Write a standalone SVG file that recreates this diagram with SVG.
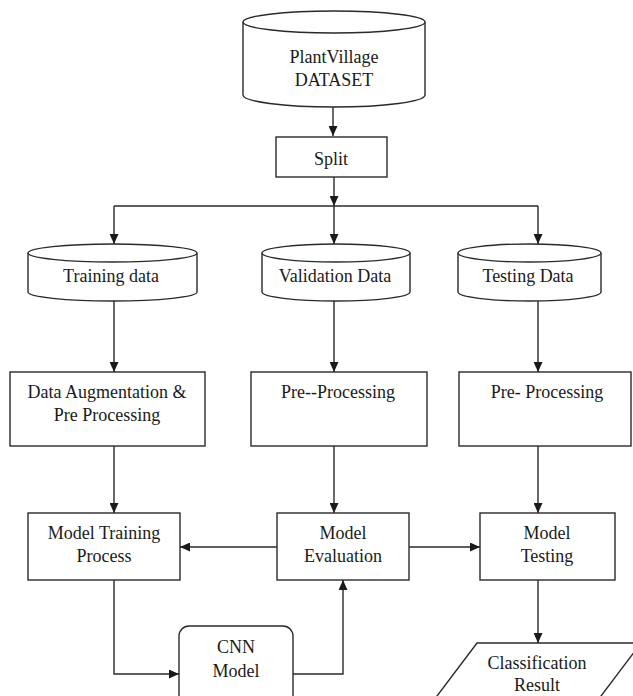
<svg xmlns="http://www.w3.org/2000/svg" width="633" height="696" viewBox="0 0 633 696">
<defs>
<marker id="ah" markerWidth="10" markerHeight="9" refX="10" refY="4.5" orient="auto" markerUnits="userSpaceOnUse">
<path d="M0,0 L10,4.5 L0,9 z" fill="#1a1a1a"/>
</marker>
</defs>
<style>
.s{fill:#fff;stroke:#2a2a2a;stroke-width:1.4}
.c{fill:none;stroke:#2a2a2a;stroke-width:1.4}
.a{marker-end:url(#ah)}
text{font-family:"Liberation Serif","Times New Roman",serif;font-size:18px;fill:#1a1a1a;text-anchor:middle}
</style>
<rect width="633" height="696" fill="#fff"/>
<g id="connectors">
<path class="c a" d="M333,107 L333,136"/>
<path class="c a" d="M334,177 L334,206"/>
<path class="c" d="M114,206 L538,206"/>
<path class="c a" d="M114,206 L114,244"/>
<path class="c a" d="M334,206 L334,244"/>
<path class="c a" d="M538,206 L538,244"/>
<path class="c a" d="M114,301 L114,372"/>
<path class="c a" d="M334,301 L334,372"/>
<path class="c a" d="M538,301 L538,372"/>
<path class="c a" d="M114,446 L114,513"/>
<path class="c a" d="M334,446 L334,513"/>
<path class="c a" d="M538,446 L538,513"/>
<path class="c a" d="M277,547 L180,547"/>
<path class="c a" d="M409,547 L480,547"/>
<path class="c a" d="M114,580 L114,674 L179,674"/>
<path class="c a" d="M293,674 L343,674 L343,580"/>
<path class="c a" d="M538,580 L538,643"/>
</g>
<g id="dataset">
<path class="s" d="M243,22 L243,95 A91,12 0 0 0 425,95 L425,22"/>
<ellipse class="s" cx="334" cy="22" rx="91" ry="11"/>
<text x="334" y="63">PlantVillage</text>
<text x="334" y="86">DATASET</text>
</g>
<g id="split">
<rect class="s" x="276" y="137" width="111" height="40"/>
<text x="331" y="165">Split</text>
</g>
<g id="training-data">
<path class="s" d="M28,253 L28,292 A84.5,9 0 0 0 197,292 L197,253"/>
<ellipse class="s" cx="112.5" cy="253" rx="84.5" ry="9"/>
<text x="111" y="282">Training data</text>
</g>
<g id="validation-data">
<path class="s" d="M262,253 L262,292 A74,9 0 0 0 410,292 L410,253"/>
<ellipse class="s" cx="336" cy="253" rx="74" ry="9"/>
<text x="335" y="282">Validation Data</text>
</g>
<g id="testing-data">
<path class="s" d="M458,253 L458,292 A71.5,9 0 0 0 601,292 L601,253"/>
<ellipse class="s" cx="529.5" cy="253" rx="71.5" ry="9"/>
<text x="528" y="282">Testing Data</text>
</g>
<g id="augmentation">
<rect class="s" x="10" y="372" width="195" height="74"/>
<text x="107" y="398">Data Augmentation &amp;</text>
<text x="107" y="421">Pre Processing</text>
</g>
<g id="preprocessing-val">
<rect class="s" x="251" y="372" width="176" height="74"/>
<text x="338" y="398">Pre--Processing</text>
</g>
<g id="preprocessing-test">
<rect class="s" x="459" y="372" width="172" height="74"/>
<text x="547" y="398">Pre- Processing</text>
</g>
<g id="model-training">
<rect class="s" x="28" y="513" width="152" height="67"/>
<text x="104" y="539">Model Training</text>
<text x="104" y="562">Process</text>
</g>
<g id="model-evaluation">
<rect class="s" x="277" y="513" width="132" height="67"/>
<text x="343" y="539">Model</text>
<text x="343" y="562">Evaluation</text>
</g>
<g id="model-testing">
<rect class="s" x="480" y="513" width="135" height="67"/>
<text x="547" y="539">Model</text>
<text x="547" y="562">Testing</text>
</g>
<g id="cnn-model">
<rect class="s" x="179" y="626" width="114" height="80" rx="10" ry="10"/>
<text x="236" y="653">CNN</text>
<text x="236" y="677">Model</text>
</g>
<g id="classification-result">
<polygon class="s" points="477,643 641,643 598,700 434,700"/>
<text x="537" y="669">Classification</text>
<text x="537" y="691">Result</text>
</g>
</svg>
